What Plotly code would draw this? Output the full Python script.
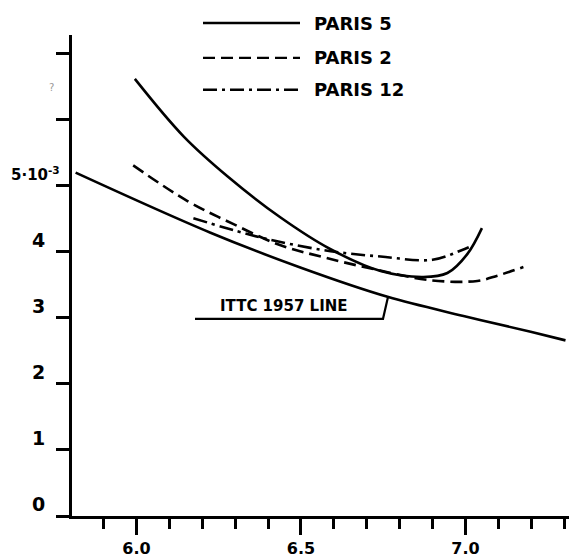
import plotly.graph_objects as go

# ---- data ----
paris5_x = [5.995, 6.143, 6.28, 6.438, 6.59, 6.742, 6.872, 6.945, 7.006, 7.05]
paris5_y = [6.62, 5.75, 5.13, 4.52, 4.04, 3.71, 3.62, 3.68, 3.97, 4.36]

paris2_x = [5.99, 6.155, 6.295, 6.438, 6.568, 6.72, 6.894, 7.036, 7.097, 7.176]
paris2_y = [5.31, 4.77, 4.42, 4.10, 3.92, 3.74, 3.57, 3.56, 3.64, 3.77]

paris12_x = [6.173, 6.337, 6.438, 6.59, 6.742, 6.90, 6.99, 7.01]
paris12_y = [4.51, 4.27, 4.15, 4.01, 3.93, 3.88, 4.03, 4.07]

ittc_x = [5.815, 6.225, 6.50, 6.763, 6.994, 7.198, 7.304]
ittc_y = [5.20, 4.29, 3.76, 3.32, 3.03, 2.79, 2.66]

series_names = ["PARIS 5", "PARIS 2", "PARIS 12"]
series_dash = ["solid", "12px,6px", "14px,5px,3px,5px"]
x_tick_vals = [6.0, 6.5, 7.0]
x_tick_text = ["6.0", "6.5", "7.0"]
y_tick_vals = [0, 1, 2, 3, 4, 5, 6, 7]
y_tick_text = ["0", "1", "2", "3", "4", "5·10<sup>-3</sup>", "", ""]
ittc_label = "ITTC 1957 LINE"

# ---- layout geometry ----
W, H = 569, 558
ML, MR, MT, MB = 72, 0, 35, 40
PW, PH = W - ML - MR, H - MT - MB
XR = [5.804, 5.804 + PW / 329.0]
YR = [0, PH / 66.3]

def px(x):
    return (x - ML) / PW

def py(y):
    return (H - MB - y) / PH

FONT = "Liberation Sans Narrow, DejaVu Sans, sans-serif"
LW = 2.6

fig = go.Figure()
for xs, ys, name, dash in [
    (paris5_x, paris5_y, series_names[0], series_dash[0]),
    (paris2_x, paris2_y, series_names[1], series_dash[1]),
    (paris12_x, paris12_y, series_names[2], series_dash[2]),
]:
    fig.add_trace(go.Scatter(x=xs, y=ys, mode="lines", name=name,
                             line=dict(color="black", width=LW, dash=dash, shape="spline", smoothing=1.0)))
fig.add_trace(go.Scatter(x=ittc_x, y=ittc_y, mode="lines", name="ITTC 1957",
                         line=dict(color="black", width=LW, shape="spline", smoothing=1.0)))

shapes = []
annotations = []
# legend drawn by hand
leg_y = [23, 58, 90]
for i in range(3):
    shapes.append(dict(type="line", xref="paper", yref="paper",
                       x0=px(203), x1=px(300), y0=py(leg_y[i]), y1=py(leg_y[i]),
                       line=dict(color="black", width=2.4, dash=series_dash[i])))
    annotations.append(dict(xref="paper", yref="paper", x=px(312), y=py(leg_y[i]),
                            text="<b>" + series_names[i] + "</b>", showarrow=False,
                            xanchor="left", yanchor="middle",
                            font=dict(family=FONT, size=18, color="black")))

# ITTC label with bracket
annotations.append(dict(xref="paper", yref="paper", x=px(284), y=py(307), text="<b>" + ittc_label + "</b>",
                        showarrow=False, xanchor="center", yanchor="middle",
                        font=dict(family=FONT, size=15, color="black")))
shapes.append(dict(type="path", xref="paper", yref="paper",
                   path=f"M {px(195)} {py(320)} L {px(383)} {py(320)} L {px(388)} {py(298)}",
                   line=dict(color="black", width=2.2)))

# y tick labels as annotations (hand placed slightly above ticks)
for v, t in zip(y_tick_vals, y_tick_text):
    if not t:
        continue
    annotations.append(dict(xref="paper", yref="y", x=px(47) if v < 5 else px(62), y=v, yshift=12,
                            text="<b>" + t + "</b>", showarrow=False,
                            xanchor="right", yanchor="middle",
                            font=dict(family=FONT, size=19 if v < 5 else 15, color="black")))
annotations.append(dict(xref="paper", yref="paper", x=px(47), y=py(80), text="?",
                        showarrow=False, font=dict(family=FONT, size=10, color="#999999")))

fig.update_layout(
    width=W, height=H,
    margin=dict(l=ML, r=MR, t=MT, b=MB),
    paper_bgcolor="white", plot_bgcolor="white",
    showlegend=False,
    shapes=shapes, annotations=annotations,
    xaxis=dict(range=XR, showgrid=False, zeroline=False, showline=True, linecolor="black", linewidth=3,
               ticks="outside", ticklen=16, tickwidth=2.5, tickcolor="black",
               tickvals=x_tick_vals, ticktext=["<b>" + t + "</b>" for t in x_tick_text],
               tickfont=dict(family=FONT, size=16, color="black"),
               minor=dict(dtick=0.1, tick0=5.9, ticks="outside", ticklen=10, tickwidth=2.5, tickcolor="black")),
    yaxis=dict(range=YR, showgrid=False, zeroline=False, showline=True, linecolor="black", linewidth=3,
               ticks="outside", ticklen=13, tickwidth=2.5, tickcolor="black",
               tickvals=y_tick_vals, showticklabels=False),
)

fig.write_html("out.html")
